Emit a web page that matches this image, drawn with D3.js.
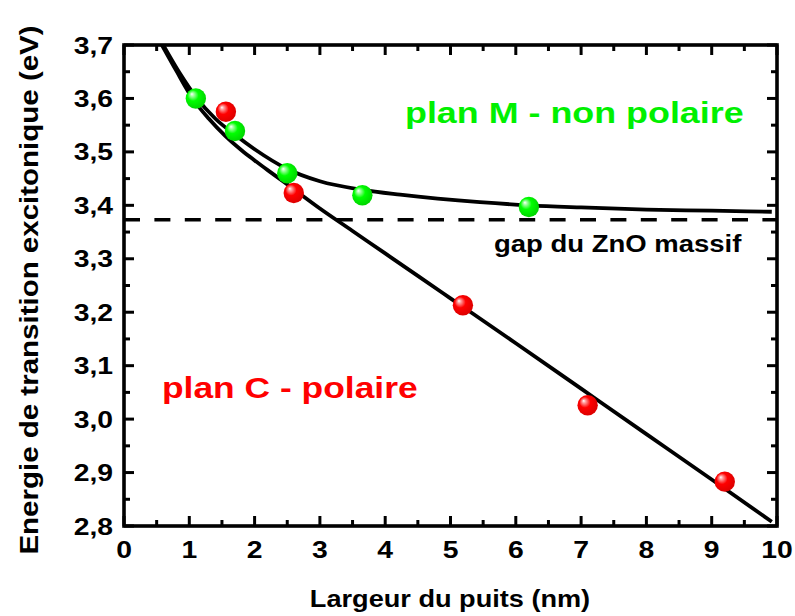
<!DOCTYPE html>
<html><head><meta charset="utf-8">
<script src="https://cdnjs.cloudflare.com/ajax/libs/d3/7.8.5/d3.min.js"></script>
<style>body{margin:0;background:#fff;}svg{display:block;}</style>
</head><body>
<svg id="c" width="795" height="616"></svg>
<script>
// ---- data ----
const greenX = [1.1, 1.7, 2.5, 3.65, 6.2];
const greenY = [3.600, 3.539, 3.460, 3.419, 3.397];
const redX = [1.56, 2.6, 5.19, 7.1, 9.2];
const redY = [3.575, 3.423, 3.213, 3.026, 2.883];
const curveMX = [0.6, 0.85, 1.1, 1.4, 1.7, 2.0, 2.5, 3.0, 3.65, 4.23, 5.45, 6.2, 7.0, 8.0, 9.0, 9.92];
const curveMY = [3.70, 3.648, 3.603, 3.562, 3.532, 3.505, 3.468, 3.445, 3.429, 3.420, 3.406, 3.400, 3.396, 3.392, 3.390, 3.388];
const curveCX = [0.58, 0.8, 1.05, 1.3, 1.55, 1.8, 2.0, 2.3, 2.6, 3.0, 3.5, 4.0, 4.5, 5.0, 6.0, 7.0, 8.0, 9.0, 9.92];
const curveCY = [3.70, 3.652, 3.60, 3.562, 3.530, 3.503, 3.484, 3.457, 3.430, 3.394, 3.352, 3.310, 3.268, 3.226, 3.142, 3.057, 2.972, 2.887, 2.808];
const gapZnO = 3.373;
const xTicks = [0,1,2,3,4,5,6,7,8,9,10];
const yTicks = [2.8,2.9,3.0,3.1,3.2,3.3,3.4,3.5,3.6,3.7];
const labels = {
  x: "Largeur du puits (nm)",
  y: "Energie de transition excitonique (eV)",
  m: "plan M - non polaire",
  c: "plan C - polaire",
  gap: "gap du ZnO massif"
};

// ---- layout ----
const svg = d3.select("#c");
const L = 124, R = 777, T = 45, B = 526;
const x = d3.scaleLinear().domain([0,10]).range([L,R]);
const y = d3.scaleLinear().domain([2.8,3.7]).range([B,T]);
const SX = 1.18;
const font = "'Liberation Sans', Arial, sans-serif";

const defs = svg.append("defs");
function ballGrad(id, light, base, dark){
  const g = defs.append("radialGradient").attr("id", id)
    .attr("cx", "45%").attr("cy", "45%").attr("r", "60%")
    .attr("fx", "30%").attr("fy", "28%");
  g.append("stop").attr("offset", "0%").attr("stop-color", "#ffffff");
  g.append("stop").attr("offset", "14%").attr("stop-color", light);
  g.append("stop").attr("offset", "45%").attr("stop-color", base);
  g.append("stop").attr("offset", "100%").attr("stop-color", dark);
}
ballGrad("gG", "#a8ffa8", "#00ff00", "#00d000");
ballGrad("gR", "#ffa0a0", "#ff0000", "#d80000");

defs.append("clipPath").attr("id","clip").append("rect")
  .attr("x", L).attr("y", T).attr("width", R-L).attr("height", B-T);

// dashed gap line
svg.append("line")
  .attr("x1", x(0)).attr("x2", x(10)).attr("y1", y(gapZnO)).attr("y2", y(gapZnO))
  .attr("stroke", "#000").attr("stroke-width", 3.6).attr("stroke-dasharray", "16,14.4");

// curves
const line = d3.line().x(d => x(d[0])).y(d => y(d[1])).curve(d3.curveMonotoneX);
const g = svg.append("g").attr("clip-path", "url(#clip)");
g.append("path").datum(curveMX.map((v,i)=>[v, curveMY[i]]))
  .attr("d", line).attr("fill","none").attr("stroke","#000").attr("stroke-width",3.8);
g.append("path").datum(curveCX.map((v,i)=>[v, curveCY[i]]))
  .attr("d", line).attr("fill","none").attr("stroke","#000").attr("stroke-width",3.8);

// balls
svg.append("g").selectAll("circle").data(greenX.map((v,i)=>[v, greenY[i]])).join("circle")
  .attr("cx", d=>x(d[0])).attr("cy", d=>y(d[1])).attr("r", 10.2).attr("fill","url(#gG)");
svg.append("g").selectAll("circle").data(redX.map((v,i)=>[v, redY[i]])).join("circle")
  .attr("cx", d=>x(d[0])).attr("cy", d=>y(d[1])).attr("r", 10.2).attr("fill","url(#gR)");

// frame
svg.append("rect").attr("x", L).attr("y", T).attr("width", R-L).attr("height", B-T)
  .attr("fill","none").attr("stroke","#000").attr("stroke-width",3.6);

// ticks (inward on all four sides)
const xMinor = d3.range(0.5, 10, 1);
const yMinor = d3.range(2.85, 3.7, 0.1);
const tk = svg.append("g").attr("stroke","#000").attr("stroke-width",3);
const MAJ = 10, MIN = 6;
xTicks.forEach(v => {
  tk.append("line").attr("x1",x(v)).attr("x2",x(v)).attr("y1",B).attr("y2",B-MAJ);
  tk.append("line").attr("x1",x(v)).attr("x2",x(v)).attr("y1",T).attr("y2",T+MAJ);
});
xMinor.forEach(v => {
  tk.append("line").attr("x1",x(v)).attr("x2",x(v)).attr("y1",B).attr("y2",B-MIN);
  tk.append("line").attr("x1",x(v)).attr("x2",x(v)).attr("y1",T).attr("y2",T+MIN);
});
yTicks.forEach(v => {
  tk.append("line").attr("y1",y(v)).attr("y2",y(v)).attr("x1",L).attr("x2",L+MAJ);
  tk.append("line").attr("y1",y(v)).attr("y2",y(v)).attr("x1",R).attr("x2",R-MAJ);
});
yMinor.forEach(v => {
  tk.append("line").attr("y1",y(v)).attr("y2",y(v)).attr("x1",L).attr("x2",L+MIN);
  tk.append("line").attr("y1",y(v)).attr("y2",y(v)).attr("x1",R).attr("x2",R-MIN);
});

function txt(px, py, s, fs, color, anchor, rot){
  svg.append("text")
    .attr("transform", `translate(${px},${py}) rotate(${rot||0}) scale(${SX},1)`)
    .attr("text-anchor", anchor || "start")
    .attr("font-family", font).attr("font-weight", "bold")
    .attr("font-size", fs).attr("fill", color).text(s);
}
const fmt = v => d3.format(".1f")(v).replace(".", ",");
// tick labels
xTicks.forEach(v => txt(x(v), 558, String(v), 24, "#000", "middle"));
yTicks.forEach(v => txt(113, y(v) + 8.6, fmt(v), 24, "#000", "end"));

// axis titles
txt(450, 607, labels.x, 23, "#000", "middle");
txt(38, 290, labels.y, 25, "#000", "middle", -90);

// annotations
txt(405, 123, labels.m, 30.4, "#00f000", "start");
txt(162, 398, labels.c, 30, "#ff0000", "start");
txt(494, 252, labels.gap, 23.3, "#000", "start");
</script>
</body></html>
